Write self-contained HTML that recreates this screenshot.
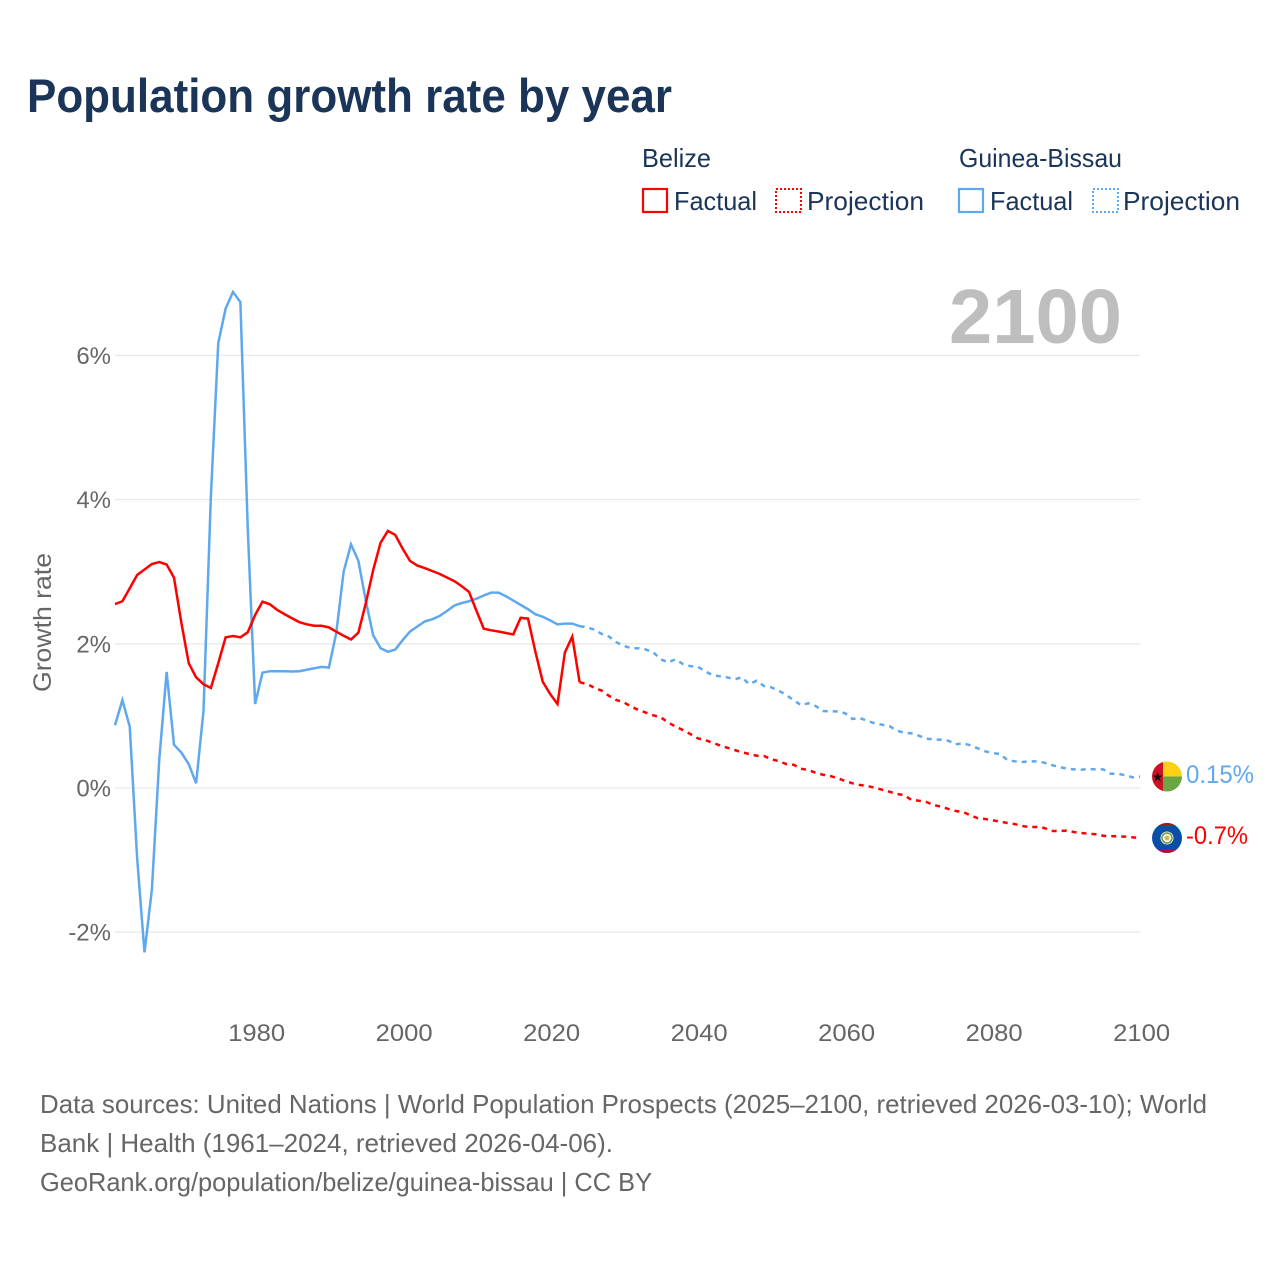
<!DOCTYPE html>
<html lang="en">
<head>
<meta charset="utf-8">
<title>Population growth rate by year</title>
<style>
html,body{margin:0;padding:0;background:#fff;width:1280px;height:1280px;overflow:hidden}
svg{display:block}
text{font-family:"Liberation Sans",sans-serif}
</style>
</head>
<body>
<svg id="chart" width="1280" height="1280" viewBox="0 0 1280 1280" xmlns="http://www.w3.org/2000/svg">
  <defs>
    <clipPath id="flag-clip-gw"><circle cx="1167" cy="776.5" r="15"/></clipPath>
    <clipPath id="flag-clip-bz"><circle cx="1167" cy="838" r="15"/></clipPath>
  </defs>
  <rect width="1280" height="1280" fill="#fff"/>
  <text x="27" y="112" font-size="47" font-weight="700" fill="#1a3557" textLength="645" lengthAdjust="spacingAndGlyphs">Population growth rate by year</text>

  <g font-size="26" fill="#1a3557">
    <text x="642" y="167" textLength="69" lengthAdjust="spacingAndGlyphs">Belize</text>
    <text x="959" y="167" textLength="163" lengthAdjust="spacingAndGlyphs">Guinea-Bissau</text>
    <rect x="643" y="189" width="24" height="23" fill="#fff" stroke="#ff0000" stroke-width="2.2"/>
    <text x="674" y="210" textLength="83" lengthAdjust="spacingAndGlyphs">Factual</text>
    <rect x="776" y="189" width="25" height="23" fill="#fff" stroke="#ff0000" stroke-width="2" stroke-dasharray="2,2"/>
    <text x="807" y="210" textLength="117" lengthAdjust="spacingAndGlyphs">Projection</text>
    <rect x="959" y="189" width="24" height="23" fill="#fff" stroke="#5fa8ee" stroke-width="2.2"/>
    <text x="990" y="210" textLength="83" lengthAdjust="spacingAndGlyphs">Factual</text>
    <rect x="1093" y="189" width="25" height="23" fill="#fff" stroke="#5fa8ee" stroke-width="2" stroke-dasharray="2,2"/>
    <text x="1123" y="210" textLength="117" lengthAdjust="spacingAndGlyphs">Projection</text>
  </g>

  <text x="949" y="343" font-size="77" font-weight="700" fill="#bebebe" textLength="173" lengthAdjust="spacingAndGlyphs">2100</text>
  <text transform="translate(51,622.5) rotate(-90)" text-anchor="middle" font-size="25" fill="#666" textLength="139" lengthAdjust="spacingAndGlyphs">Growth rate</text>

  <g id="grid"></g>
  <g id="yticks"></g>
  <g id="xticks"></g>
  <g id="series"></g>

  <g clip-path="url(#flag-clip-gw)">
    <rect x="1152" y="761" width="11" height="31" fill="#ce1126"/>
    <rect x="1163" y="761" width="19" height="15.5" fill="#fcd116"/>
    <rect x="1163" y="776.5" width="19" height="15.5" fill="#6ba544"/>
    <polygon points="1157.7,771.8 1159,775.5 1162.8,775.5 1159.7,777.8 1160.9,781.5 1157.7,779.2 1154.5,781.5 1155.7,777.8 1152.6,775.5 1156.4,775.5" fill="#111"/>
  </g>
  <g clip-path="url(#flag-clip-bz)">
    <rect x="1152" y="823" width="30" height="30" fill="#0a4ea8"/>
    <rect x="1152" y="823" width="30" height="3" fill="#b01030"/>
    <rect x="1152" y="850" width="30" height="3" fill="#b01030"/>
    <circle cx="1167" cy="838" r="6.5" fill="#f4f6ea"/>
    <circle cx="1167" cy="838" r="5" fill="none" stroke="#6f9a4a" stroke-width="1.5"/>
    <circle cx="1167" cy="838" r="2.4" fill="#d9b44a"/>
  </g>
  <text x="1186" y="783" font-size="25" fill="#5fa8ee" textLength="68" lengthAdjust="spacingAndGlyphs">0.15%</text>
  <text x="1186" y="844" font-size="25" fill="#ff0000" textLength="62" lengthAdjust="spacingAndGlyphs">-0.7%</text>

  <g font-size="26" fill="#666">
    <text x="40" y="1113" textLength="1167" lengthAdjust="spacingAndGlyphs">Data sources: United Nations | World Population Prospects (2025–2100, retrieved 2026-03-10); World</text>
    <text x="40" y="1152" textLength="573" lengthAdjust="spacingAndGlyphs">Bank | Health (1961–2024, retrieved 2026-04-06).</text>
    <text x="40" y="1191" textLength="612" lengthAdjust="spacingAndGlyphs">GeoRank.org/population/belize/guinea-bissau | CC BY</text>
  </g>
</svg>
<script>
var firstYear = 1961;
var lastFactualYear = 2024;
var yTickValues = [6, 4, 2, 0, -2];
var xTickYears = [1980, 2000, 2020, 2040, 2060, 2080, 2100];

var belizeFactual = [2.55,2.59,2.77,2.954,3.03,3.107,3.134,3.10,2.917,2.29,1.73,1.535,1.44,1.387,1.73,2.09,2.108,2.09,2.16,2.40,2.584,2.548,2.47,2.41,2.354,2.30,2.27,2.25,2.25,2.228,2.168,2.112,2.06,2.154,2.56,3.02,3.40,3.565,3.51,3.32,3.15,3.085,3.05,3.01,2.97,2.92,2.87,2.80,2.72,2.46,2.21,2.187,2.17,2.15,2.13,2.36,2.35,1.89,1.474,1.304,1.165,1.88,2.10,1.466];
var belizeProjection = [1.442,1.39,1.35,1.276,1.22,1.188,1.128,1.082,1.045,1.008,0.98,0.911,0.85,0.804,0.749,0.689,0.666,0.628,0.592,0.559,0.527,0.495,0.472,0.448,0.444,0.398,0.374,0.333,0.323,0.268,0.25,0.212,0.184,0.166,0.135,0.097,0.065,0.042,0.028,0.004,-0.023,-0.051,-0.083,-0.097,-0.166,-0.176,-0.194,-0.236,-0.259,-0.291,-0.319,-0.333,-0.379,-0.42,-0.43,-0.448,-0.467,-0.485,-0.5,-0.527,-0.541,-0.541,-0.555,-0.596,-0.596,-0.592,-0.61,-0.624,-0.634,-0.642,-0.662,-0.67,-0.67,-0.675,-0.684,-0.693];
var guineaFactual = [0.87,1.22,0.85,-0.97,-2.28,-1.41,0.39,1.61,0.60,0.49,0.33,0.065,1.07,4.05,6.17,6.65,6.88,6.74,3.6,1.165,1.60,1.62,1.62,1.62,1.615,1.62,1.64,1.66,1.68,1.67,2.15,3.0,3.38,3.15,2.6,2.12,1.94,1.89,1.92,2.05,2.17,2.24,2.31,2.34,2.385,2.455,2.53,2.565,2.59,2.625,2.67,2.71,2.71,2.66,2.60,2.54,2.48,2.41,2.375,2.325,2.27,2.28,2.28,2.245];
var guineaProjection = [2.229,2.196,2.136,2.099,2.02,1.97,1.94,1.937,1.92,1.88,1.785,1.743,1.785,1.72,1.69,1.683,1.62,1.567,1.549,1.535,1.507,1.535,1.44,1.488,1.415,1.396,1.35,1.29,1.22,1.15,1.175,1.137,1.068,1.063,1.063,1.036,0.957,0.97,0.933,0.897,0.878,0.86,0.795,0.767,0.758,0.725,0.684,0.675,0.67,0.656,0.606,0.62,0.592,0.55,0.509,0.485,0.472,0.388,0.37,0.36,0.37,0.37,0.351,0.319,0.291,0.27,0.259,0.254,0.264,0.259,0.259,0.198,0.198,0.176,0.148,0.157];

var NS = 'http://www.w3.org/2000/svg';
function xScale(year) { return 115 + (year - firstYear) * 7.375; }
function yScale(value) { return 788 - value * 72.1; }

function pathFrom(values, startYear, prefixYear, prefixValue) {
  var pts = [];
  if (prefixYear !== null) {
    pts.push(xScale(prefixYear).toFixed(2) + ',' + yScale(prefixValue).toFixed(2));
  }
  for (var i = 0; i < values.length; i++) {
    pts.push(xScale(startYear + i).toFixed(2) + ',' + yScale(values[i]).toFixed(2));
  }
  return 'M' + pts.join('L');
}

var gridGroup = document.getElementById('grid');
var yTickGroup = document.getElementById('yticks');
yTickValues.forEach(function (v) {
  var line = document.createElementNS(NS, 'line');
  
  
  line.setAttribute('x1', 115);
  line.setAttribute('x2', 1140);
  line.setAttribute('y1', yScale(v));
  line.setAttribute('y2', yScale(v));
  line.setAttribute('stroke', '#e9e9e9');
  line.setAttribute('stroke-width', '1.3');
  gridGroup.appendChild(line);

  var label = document.createElementNS(NS, 'text');
  
  
  label.setAttribute('x', 111);
  label.setAttribute('y', yScale(v) + 8.5);
  label.setAttribute('text-anchor', 'end');
  label.setAttribute('font-size', '24');
  label.setAttribute('fill', '#666');
  label.textContent = v + '%';
  yTickGroup.appendChild(label);
});

var xTickGroup = document.getElementById('xticks');
xTickYears.forEach(function (year) {
  var label = document.createElementNS(NS, 'text');
  
  
  label.setAttribute('x', xScale(year) + 1.5);
  label.setAttribute('y', 1041);
  label.setAttribute('text-anchor', 'middle');
  label.setAttribute('font-size', '24');
  label.setAttribute('fill', '#666');
  label.setAttribute('textLength', '57');
  label.setAttribute('lengthAdjust', 'spacingAndGlyphs');
  label.textContent = String(year);
  xTickGroup.appendChild(label);
});

var seriesGroup = document.getElementById('series');

var guineaFactualLine = document.createElementNS(NS, 'path');


guineaFactualLine.setAttribute('d', pathFrom(guineaFactual, firstYear, null, 0));
guineaFactualLine.setAttribute('fill', 'none');
guineaFactualLine.setAttribute('stroke', '#5fa8ee');
guineaFactualLine.setAttribute('stroke-width', '2.5');
seriesGroup.appendChild(guineaFactualLine);

var guineaProjectionLine = document.createElementNS(NS, 'path');


guineaProjectionLine.setAttribute('d', pathFrom(guineaProjection, lastFactualYear + 1, lastFactualYear, guineaFactual[guineaFactual.length - 1]));
guineaProjectionLine.setAttribute('fill', 'none');
guineaProjectionLine.setAttribute('stroke', '#5fa8ee');
guineaProjectionLine.setAttribute('stroke-width', '2.5');
guineaProjectionLine.setAttribute('stroke-dasharray', '5,5');
seriesGroup.appendChild(guineaProjectionLine);

var belizeFactualLine = document.createElementNS(NS, 'path');


belizeFactualLine.setAttribute('d', pathFrom(belizeFactual, firstYear, null, 0));
belizeFactualLine.setAttribute('fill', 'none');
belizeFactualLine.setAttribute('stroke', '#ff0000');
belizeFactualLine.setAttribute('stroke-width', '2.5');
seriesGroup.appendChild(belizeFactualLine);

var belizeProjectionLine = document.createElementNS(NS, 'path');


belizeProjectionLine.setAttribute('d', pathFrom(belizeProjection, lastFactualYear + 1, lastFactualYear, belizeFactual[belizeFactual.length - 1]));
belizeProjectionLine.setAttribute('fill', 'none');
belizeProjectionLine.setAttribute('stroke', '#ff0000');
belizeProjectionLine.setAttribute('stroke-width', '2.5');
belizeProjectionLine.setAttribute('stroke-dasharray', '5,5');
seriesGroup.appendChild(belizeProjectionLine);
</script>
</body>
</html>
